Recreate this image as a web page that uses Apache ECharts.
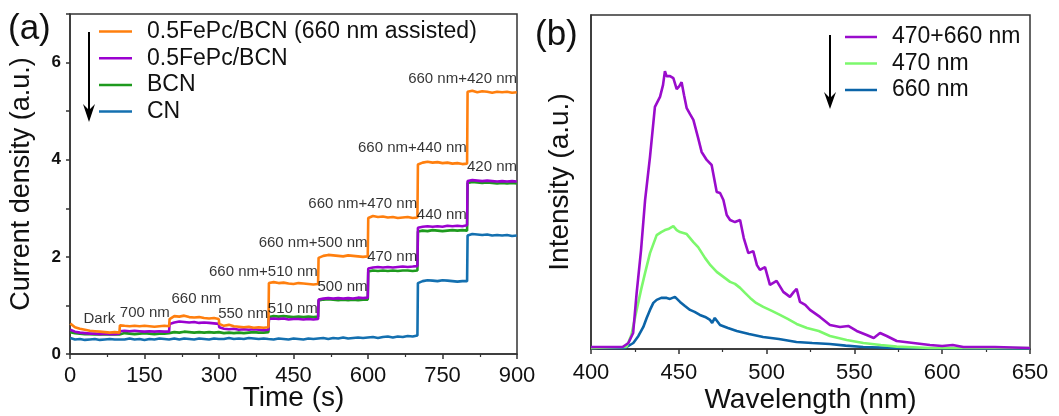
<!DOCTYPE html>
<html>
<head>
<meta charset="utf-8">
<script src="https://cdn.jsdelivr.net/npm/echarts@6/dist/echarts.min.js"></script>
<style>html,body{margin:0;padding:0;background:#fff}#c{width:1059px;height:416px}</style>
</head>
<body>
<div id="c"></div>
<script>
// ---------- Panel (a): transient photocurrent ----------
const namesA = ['0.5FePc/BCN (660 nm assisted)', '0.5FePc/BCN', 'BCN', 'CN'];
const segOffsets = [0.5, 10, 20, 30, 40, 50, 60, 70, 80, 90, 99.5];
const fePcAssisted = [
  [0.63, 0.55, 0.52, 0.50, 0.48, 0.47, 0.46, 0.45, 0.44, 0.45, 0.44],
  [0.59, 0.58, 0.57, 0.58, 0.57, 0.58, 0.57, 0.56, 0.57, 0.58, 0.57],
  [0.72, 0.78, 0.77, 0.79, 0.76, 0.75, 0.76, 0.74, 0.73, 0.74, 0.72],
  [0.62, 0.58, 0.60, 0.57, 0.56, 0.55, 0.56, 0.54, 0.55, 0.54, 0.55],
  [1.46, 1.48, 1.46, 1.47, 1.45, 1.44, 1.46, 1.45, 1.44, 1.43, 1.44],
  [1.98, 2.02, 2.04, 2.03, 2.02, 2.01, 2.03, 2.02, 2.01, 2.00, 2.01],
  [2.80, 2.84, 2.82, 2.83, 2.81, 2.82, 2.80, 2.81, 2.82, 2.80, 2.81],
  [3.90, 3.94, 3.96, 3.94, 3.95, 3.93, 3.94, 3.92, 3.93, 3.91, 3.92],
  [5.40, 5.42, 5.39, 5.41, 5.40, 5.38, 5.40, 5.39, 5.40, 5.38, 5.39]
];
const fePcBCN = [
  [0.50, 0.46, 0.44, 0.43, 0.42, 0.42, 0.41, 0.42, 0.41, 0.41, 0.42],
  [0.47, 0.48, 0.47, 0.48, 0.47, 0.46, 0.47, 0.46, 0.47, 0.46, 0.46],
  [0.62, 0.65, 0.67, 0.66, 0.65, 0.66, 0.64, 0.65, 0.64, 0.63, 0.62],
  [0.55, 0.52, 0.51, 0.52, 0.50, 0.51, 0.50, 0.51, 0.50, 0.49, 0.50],
  [0.72, 0.73, 0.72, 0.73, 0.71, 0.72, 0.72, 0.71, 0.72, 0.71, 0.72],
  [1.12, 1.14, 1.15, 1.14, 1.15, 1.14, 1.15, 1.14, 1.16, 1.15, 1.16],
  [1.76, 1.78, 1.79, 1.78, 1.79, 1.78, 1.79, 1.80, 1.79, 1.80, 1.81],
  [2.60, 2.62, 2.63, 2.62, 2.63, 2.62, 2.64, 2.63, 2.64, 2.63, 2.65],
  [3.56, 3.58, 3.57, 3.56, 3.57, 3.56, 3.55, 3.56, 3.55, 3.56, 3.55]
];
const bcn = [
  [0.45, 0.43, 0.42, 0.41, 0.41, 0.40, 0.41, 0.40, 0.40, 0.41, 0.40],
  [0.42, 0.43, 0.42, 0.41, 0.42, 0.43, 0.42, 0.41, 0.42, 0.42, 0.43],
  [0.44, 0.45, 0.44, 0.46, 0.45, 0.44, 0.45, 0.44, 0.45, 0.44, 0.45],
  [0.44, 0.43, 0.44, 0.43, 0.44, 0.43, 0.44, 0.45, 0.44, 0.44, 0.45],
  [0.76, 0.78, 0.77, 0.78, 0.77, 0.76, 0.77, 0.76, 0.77, 0.76, 0.77],
  [1.10, 1.12, 1.13, 1.12, 1.11, 1.12, 1.11, 1.12, 1.11, 1.12, 1.12],
  [1.70, 1.72, 1.71, 1.72, 1.71, 1.72, 1.71, 1.72, 1.72, 1.71, 1.72],
  [2.52, 2.54, 2.53, 2.55, 2.54, 2.53, 2.54, 2.55, 2.54, 2.55, 2.54],
  [3.52, 3.54, 3.53, 3.52, 3.53, 3.52, 3.51, 3.52, 3.51, 3.52, 3.51]
];
const cn = [
  [0.33, 0.30, 0.31, 0.29, 0.30, 0.31, 0.29, 0.30, 0.31, 0.30, 0.30],
  [0.31, 0.30, 0.32, 0.30, 0.31, 0.29, 0.31, 0.30, 0.32, 0.31, 0.30],
  [0.31, 0.32, 0.30, 0.32, 0.31, 0.30, 0.32, 0.31, 0.30, 0.32, 0.31],
  [0.32, 0.31, 0.33, 0.31, 0.32, 0.31, 0.33, 0.32, 0.31, 0.32, 0.31],
  [0.31, 0.30, 0.32, 0.31, 0.30, 0.32, 0.31, 0.30, 0.32, 0.31, 0.32],
  [0.32, 0.33, 0.31, 0.33, 0.32, 0.34, 0.32, 0.33, 0.34, 0.33, 0.34],
  [0.34, 0.35, 0.33, 0.35, 0.36, 0.34, 0.36, 0.35, 0.37, 0.36, 0.38],
  [1.46, 1.50, 1.52, 1.51, 1.50, 1.52, 1.51, 1.50, 1.49, 1.50, 1.50],
  [2.44, 2.47, 2.46, 2.45, 2.46, 2.44, 2.45, 2.44, 2.45, 2.43, 2.44]
];
// annotations: [text, time at right edge of text, value at text centre]
const annotations = [
  ['Dark', 91, 0.72], ['700 nm', 201, 0.85], ['660 nm', 305, 1.13], ['550 nm', 399, 0.82],
  ['660 nm+510 nm', 499, 1.69], ['510 nm', 499, 0.93],
  ['660 nm+500 nm', 599, 2.29], ['500 nm', 599, 1.38],
  ['660 nm+470 nm', 699, 3.09], ['470 nm', 699, 2.0],
  ['660 nm+440 nm', 799, 4.24], ['440 nm', 799, 2.87],
  ['660 nm+420 nm', 900, 5.66], ['420 nm', 900, 3.85]
];
const xTicksA = [0, 150, 300, 450, 600, 750, 900];

// ---------- Panel (b): PL spectra ----------
const namesB = ['470+660 nm', '470 nm', '660 nm'];
const pl470660 = [[400,6],[410,6],[418,6],[421.3,18],[424,48],[426,168],[428.5,296],[430.8,446],[433.6,575],[436.4,725],[439.3,755],[441,790],[442.1,832],[443,817],[445,817],[446.9,811],[448.8,778],[450.3,787],[451.6,799],[453,760],[454.5,721],[456.4,703],[458.3,686],[461,632],[463,590],[465.9,566],[468.7,551],[471.6,470],[473.5,467],[475.4,446],[477.3,401],[479.2,386],[482,380],[484.9,386],[487,332],[489.6,287],[492.4,293],[494.5,251],[496.2,237],[499.1,245],[501.9,192],[505.7,204],[509.5,171],[513.3,156],[515.5,171],[517.1,180],[519,141],[522,132],[524.7,117],[530.4,96],[536.1,72],[541.8,66],[546.5,69],[551.3,54],[557,42],[561,33],[564.6,48],[568.4,39],[574.1,24],[583.6,18],[593,12],[600,9],[606,12],[612,6],[630,6],[650,3]];
const pl470 = [[400,3],[418,6],[420.3,7],[423,42],[426,117],[428.5,177],[430.8,228],[433.6,287],[435.5,314],[437.4,341],[440,350],[442.1,356],[444,359],[446.9,368],[448.8,356],[450.7,350],[454.5,344],[458.3,320],[461,305],[465,272],[468,251],[471.6,231],[475.4,216],[479.2,201],[482,195],[484.9,183],[487.7,168],[490.6,153],[494,138],[498.1,126],[503,114],[507.6,102],[512,90],[517.1,75],[523,63],[529.7,54],[536.1,39],[545.6,27],[555.1,18],[565,12],[574.1,7],[593,3],[650,3]];
const pl660 = [[400,3],[419.4,3],[424.1,18],[427,39],[429.8,66],[431.7,93],[433.6,117],[435.5,138],[437.4,147],[440,153],[443.1,153],[445,150],[447.8,156],[450.7,141],[453.5,129],[456.4,117],[459,111],[462,102],[465,96],[467.8,87],[469,78],[470.5,93],[473.5,72],[478,63],[483,54],[490,45],[498,36],[507,30],[517,21],[526,18],[536,15],[545,10],[555,6],[574,3],[650,2]];
const xTicksB = [400, 450, 500, 550, 600, 650];

const FONT = '"Liberation Sans", Arial, Helvetica, sans-serif';
const colA = ['#ff7f0e', '#9b00d0', '#1e9a1e', '#1470b0'];
const colB = ['#9a0ccc', '#7cf86c', '#0b64a8'];

function build(segs) {
  const d = [];
  segs.forEach((s, k) => s.forEach((v, i) => d.push([k * 100 + segOffsets[i], v])));
  return d;
}
const dataA = [build(fePcAssisted), build(fePcBCN), build(bcn), build(cn)];

const chart = echarts.init(document.getElementById('c'), null, {renderer: 'canvas'});

const axisLineStyle = {color: '#333', width: 1.5};
const seriesA = [];
[3, 2, 1, 0].forEach(i => {
  seriesA.push({
    name: namesA[i], type: 'line', xAxisIndex: 0, yAxisIndex: 0,
    data: dataA[i], showSymbol: false, symbol: 'none', animation: false,
    lineStyle: {color: colA[i], width: 2.6}, itemStyle: {color: colA[i]}, z: 3 + (3 - i)
  });
});
seriesA.push({
  type: 'scatter', xAxisIndex: 0, yAxisIndex: 0, symbolSize: 0, animation: false, silent: true, z: 10,
  data: annotations.map(a => ({value: [a[1], a[2]], name: a[0]})),
  label: {show: true, position: 'left', distance: 0, formatter: p => p.name,
          fontFamily: FONT, fontSize: 15, color: '#000', textBorderWidth: 0}
});
const plData = [pl470660, pl470, pl660];
const seriesB = [2, 1, 0].map(i => ({
  name: namesB[i], type: 'line', xAxisIndex: 1, yAxisIndex: 1, data: plData[i],
  showSymbol: false, symbol: 'none', animation: false, smooth: false,
  lineStyle: {color: colB[i], width: 2.6}, itemStyle: {color: colB[i]}, z: 3 + (2 - i)
}));

const legendText = {fontFamily: FONT, fontSize: 23, color: '#111', lineHeight: 23, padding: [0, 0, 0, 10]};

chart.setOption({
  animation: false,
  backgroundColor: '#fff',
  grid: [
    {left: 70, right: 542, top: 14, bottom: 62, show: true, borderColor: '#333', borderWidth: 1.5,
     outerBoundsMode: 'none', containLabel: false},
    {left: 591, right: 29, top: 15, bottom: 67, show: true, borderColor: '#333', borderWidth: 1.5,
     outerBoundsMode: 'none', containLabel: false}
  ],
  legend: [
    {data: namesA, orient: 'vertical', left: 99, top: 20, padding: 0, itemWidth: 33, itemHeight: 2.5, itemGap: 3.7,
     icon: 'rect', textStyle: legendText, selectedMode: false},
    {data: namesB, orient: 'vertical', left: 845, top: 25.5, padding: 0, itemWidth: 32, itemHeight: 2.5, itemGap: 3.5,
     icon: 'rect', textStyle: legendText, selectedMode: false}
  ],
  xAxis: [
    {gridIndex: 0, type: 'value', min: 0, max: 900, interval: 150,
     name: 'Time (s)', nameLocation: 'middle', nameGap: 30, nameMoveOverlap: false,
     nameTextStyle: {fontFamily: FONT, fontSize: 28, color: '#111'},
     axisLine: {lineStyle: axisLineStyle}, axisTick: {length: 5, lineStyle: axisLineStyle},
     minorTick: {show: true, splitNumber: 2, length: 3, lineStyle: {color: '#333', width: 1.2}},
     axisLabel: {fontFamily: FONT, fontSize: 22, color: '#111', margin: 11,
                 customValues: xTicksA, formatter: v => String(v)},
     splitLine: {show: false}},
    {gridIndex: 1, type: 'value', min: 400, max: 650, interval: 50,
     name: 'Wavelength (nm)', nameLocation: 'middle', nameGap: 37, nameMoveOverlap: false,
     nameTextStyle: {fontFamily: FONT, fontSize: 28, color: '#111'},
     axisLine: {lineStyle: axisLineStyle}, axisTick: {length: 5, lineStyle: axisLineStyle},
     minorTick: {show: true, splitNumber: 2, length: 3, lineStyle: {color: '#333', width: 1.2}},
     axisLabel: {fontFamily: FONT, fontSize: 22, color: '#111', margin: 13,
                 customValues: xTicksB, formatter: v => String(v)},
     splitLine: {show: false}}
  ],
  yAxis: [
    {gridIndex: 0, type: 'value', min: 0, max: 7, interval: 1,
     name: 'Current density (a.u.)', nameLocation: 'middle', nameGap: 35, nameMoveOverlap: false,
     nameTextStyle: {fontFamily: FONT, fontSize: 27, color: '#111'},
     axisLine: {show: true, lineStyle: axisLineStyle}, axisTick: {show: true, length: 4, lineStyle: axisLineStyle},
     axisLabel: {fontFamily: FONT, fontSize: 17, fontWeight: 'bold', color: '#111', margin: 9,
                 formatter: v => (v % 2 === 0 && v < 7) ? String(v) : ''},
     splitLine: {show: false}},
    {gridIndex: 1, type: 'value', min: 0, max: 1000,
     name: 'Intensity (a.u.)', nameLocation: 'middle', nameGap: 17, nameMoveOverlap: false,
     nameTextStyle: {fontFamily: FONT, fontSize: 28, color: '#111'},
     axisLine: {show: true, lineStyle: axisLineStyle}, axisTick: {show: false},
     axisLabel: {show: false}, splitLine: {show: false}}
  ],
  series: seriesA.concat(seriesB),
  graphic: [
    {type: 'text', left: 8, top: 12, style: {text: '(a)', font: '35px ' + FONT, fill: '#111'}},
    {type: 'text', left: 535, top: 18, style: {text: '(b)', font: '35px ' + FONT, fill: '#111'}},
    {type: 'line', shape: {x1: 89, y1: 32, x2: 89, y2: 118}, style: {stroke: '#000', lineWidth: 2}},
    {type: 'polygon', shape: {points: [[83, 104], [89, 122], [95, 104], [89, 110]]}, style: {fill: '#000'}},
    {type: 'line', shape: {x1: 830, y1: 35, x2: 830, y2: 104}, style: {stroke: '#000', lineWidth: 2}},
    {type: 'polygon', shape: {points: [[824, 92], [830, 109], [836, 92], [830, 98]]}, style: {fill: '#000'}}
  ]
});
</script>
</body>
</html>
